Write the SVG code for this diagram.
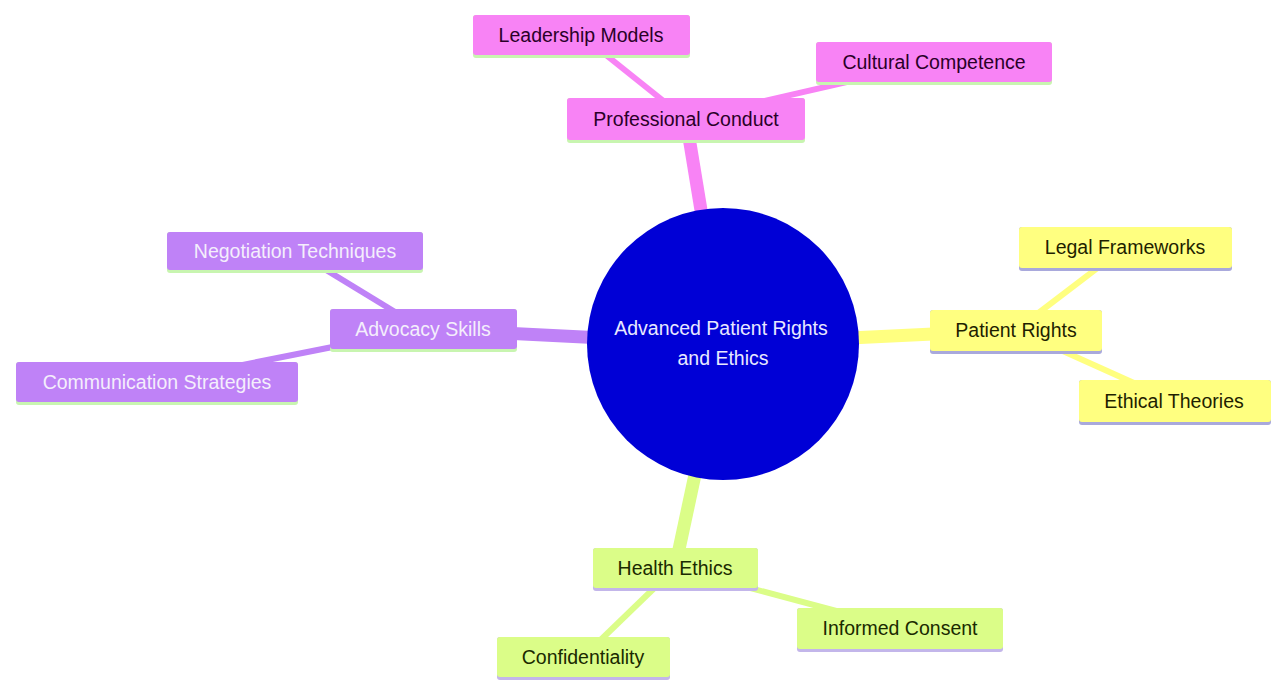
<svg xmlns="http://www.w3.org/2000/svg" width="1271" height="680" viewBox="0 0 1271 680">
<style>
text{font-family:"Liberation Sans",Arial,sans-serif;font-size:19.5px;text-anchor:middle;dominant-baseline:central}
.pk rect.b{fill:#f883f5}.pk rect.u{fill:#c8f5b0}.pk text{fill:#2a0028}
.pu rect.b{fill:#bf82f7}.pu rect.u{fill:#c8f5b0}.pu text{fill:#f4eefc}
.ye rect.b{fill:#ffff80}.ye rect.u{fill:#a9a9dc}.ye text{fill:#1f1f00}
.gr rect.b{fill:#dbfd88}.gr rect.u{fill:#c3b6ea}.gr text{fill:#1a2a00}
.e1{stroke-width:13;stroke-linecap:butt;fill:none}
.e2{stroke-width:6;stroke-linecap:butt;fill:none}
</style>
<rect width="1271" height="680" fill="#ffffff"/>
<g id="connectors">
<line class="e1" x1="723" y1="344" x2="686" y2="119" stroke="#f883f5"/>
<line class="e2" x1="686" y1="119" x2="581" y2="35" stroke="#f883f5"/>
<line class="e2" x1="686" y1="119" x2="934" y2="62" stroke="#f883f5"/>
<line class="e1" x1="723" y1="344" x2="423" y2="329" stroke="#bf82f7"/>
<line class="e2" x1="423" y1="329" x2="295" y2="251" stroke="#bf82f7"/>
<line class="e2" x1="423" y1="329" x2="157" y2="382" stroke="#bf82f7"/>
<line class="e1" x1="723" y1="344" x2="1016" y2="330" stroke="#ffff80"/>
<line class="e2" x1="1016" y1="330" x2="1125" y2="247" stroke="#ffff80"/>
<line class="e2" x1="1016" y1="330" x2="1174" y2="401" stroke="#ffff80"/>
<line class="e1" x1="723" y1="344" x2="675" y2="568" stroke="#dbfd88"/>
<line class="e2" x1="675" y1="568" x2="583" y2="657" stroke="#dbfd88"/>
<line class="e2" x1="675" y1="568" x2="900" y2="628" stroke="#dbfd88"/>
</g>
<g id="root">
<circle cx="723" cy="344" r="136" fill="#0000d6"/>
<text x="721" y="328" fill="#e8e8ff">Advanced Patient Rights</text>
<text x="723" y="358" fill="#e8e8ff">and Ethics</text>
</g>
<g id="professional-conduct" class="pk"><rect class="u" x="567" y="98" width="238" height="45" rx="3"/><rect class="b" x="567" y="98" width="238" height="42" rx="3"/><text x="686" y="119">Professional Conduct</text></g>
<g id="leadership-models" class="pk"><rect class="u" x="473" y="15" width="217" height="43" rx="3"/><rect class="b" x="473" y="15" width="217" height="40" rx="3"/><text x="581" y="35">Leadership Models</text></g>
<g id="cultural-competence" class="pk"><rect class="u" x="816" y="42" width="236" height="43" rx="3"/><rect class="b" x="816" y="42" width="236" height="40" rx="3"/><text x="934" y="62">Cultural Competence</text></g>
<g id="advocacy-skills" class="pu"><rect class="u" x="330" y="309" width="187" height="43" rx="3"/><rect class="b" x="330" y="309" width="187" height="40" rx="3"/><text x="423" y="329">Advocacy Skills</text></g>
<g id="negotiation-techniques" class="pu"><rect class="u" x="167" y="232" width="256" height="41" rx="3"/><rect class="b" x="167" y="232" width="256" height="38" rx="3"/><text x="295" y="251">Negotiation Techniques</text></g>
<g id="communication-strategies" class="pu"><rect class="u" x="16" y="362" width="282" height="43" rx="3"/><rect class="b" x="16" y="362" width="282" height="40" rx="3"/><text x="157" y="382">Communication Strategies</text></g>
<g id="patient-rights" class="ye"><rect class="u" x="930" y="310" width="172" height="44" rx="3"/><rect class="b" x="930" y="310" width="172" height="41" rx="3"/><text x="1016" y="330">Patient Rights</text></g>
<g id="legal-frameworks" class="ye"><rect class="u" x="1019" y="227" width="213" height="44" rx="3"/><rect class="b" x="1019" y="227" width="213" height="41" rx="3"/><text x="1125" y="247">Legal Frameworks</text></g>
<g id="ethical-theories" class="ye"><rect class="u" x="1079" y="380" width="192" height="45" rx="3"/><rect class="b" x="1079" y="380" width="192" height="42" rx="3"/><text x="1174" y="401">Ethical Theories</text></g>
<g id="health-ethics" class="gr"><rect class="u" x="593" y="548" width="165" height="43" rx="3"/><rect class="b" x="593" y="548" width="165" height="40" rx="3"/><text x="675" y="568">Health Ethics</text></g>
<g id="informed-consent" class="gr"><rect class="u" x="797" y="608" width="206" height="44" rx="3"/><rect class="b" x="797" y="608" width="206" height="41" rx="3"/><text x="900" y="628">Informed Consent</text></g>
<g id="confidentiality" class="gr"><rect class="u" x="497" y="637" width="173" height="43" rx="3"/><rect class="b" x="497" y="637" width="173" height="40" rx="3"/><text x="583" y="657">Confidentiality</text></g>
</svg>
